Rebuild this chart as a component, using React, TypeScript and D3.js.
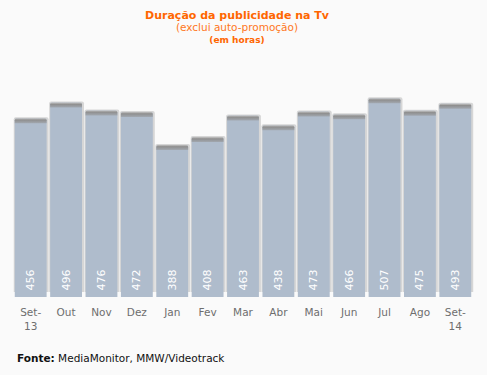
import React from 'react';
import * as d3 from 'd3';

const categories = ['Set-13', 'Out', 'Nov', 'Dez', 'Jan', 'Fev', 'Mar', 'Abr', 'Mai', 'Jun', 'Jul', 'Ago', 'Set-14'];
const tickLabels = [['Set-', '13'], ['Out'], ['Nov'], ['Dez'], ['Jan'], ['Fev'], ['Mar'], ['Abr'], ['Mai'], ['Jun'], ['Jul'], ['Ago'], ['Set-', '14']];
const hours = [456, 496, 476, 472, 388, 408, 463, 438, 473, 466, 507, 475, 493];

const W = 487;
const H = 375;
const base = 297;

// bar with rounded top corners, square bottom
function barPath(x0: number, y0: number, w: number, h: number, r: number) {
  const p = d3.path();
  p.moveTo(x0, y0 + h);
  p.lineTo(x0, y0 + r);
  p.quadraticCurveTo(x0, y0, x0 + r, y0);
  p.lineTo(x0 + w - r, y0);
  p.quadraticCurveTo(x0 + w, y0, x0 + w, y0 + r);
  p.lineTo(x0 + w, y0 + h);
  p.closePath();
  return p.toString();
}

export default function App() {
  const x = d3.scaleBand<string>()
    .domain(categories)
    .range([13, 473])
    .paddingInner(0.1)
    .paddingOuter(0.05);

  const y = d3.scaleLinear()
    .domain([0, 500])
    .range([base, 101]);

  const bw = x.bandwidth();
  const font = '"DejaVu Sans", Verdana, sans-serif';

  return (
    <svg width={W} height={H} style={{ position: 'absolute', left: 0, top: 0 }}>
      <defs>
        <linearGradient id="cap" x1="0" y1="0" x2="0" y2="1">
          <stop offset="0" stopColor="#c4c4c4" />
          <stop offset="0.35" stopColor="#8f8f8f" />
          <stop offset="1" stopColor="#a2a8b0" />
        </linearGradient>
      </defs>
      <rect width={W} height={H} fill="#fafafa" />

      <text x={237} y={19} textAnchor="middle" fontFamily={font} fontSize={11} fontWeight="bold" fill="#ff6600">
        Duração da publicidade na Tv
      </text>
      <text x={237} y={31} textAnchor="middle" fontFamily={font} fontSize={10.5} fill="#ff7722">
        (exclui auto-promoção)
      </text>
      <text x={237} y={43} textAnchor="middle" fontFamily={font} fontSize={9} fontWeight="bold" fill="#ff6600">
        (em horas)
      </text>

      {categories.map((c, i) => {
        const bx = x(c) as number;
        const top = y(hours[i]);
        const cx = bx + bw / 2;
        return (
          <g key={c}>
            <path d={barPath(bx - 1, top - 1, bw + 3, base - top - 4, 2)} fill="#d6d6d6" />
            <path d={barPath(bx, top, bw, base - top, 2)} fill="#afbccc" />
            <path d={barPath(bx, top, bw, 5, 2)} fill="url(#cap)" />
            <text
              transform={`translate(${cx},${280}) rotate(-90)`}
              textAnchor="middle"
              dominantBaseline="central"
              fontFamily={font}
              fontSize={11}
              fill="#ffffff"
            >
              {hours[i]}
            </text>
            {tickLabels[i].map((t, j) => (
              <text
                key={j}
                x={cx}
                y={316 + j * 14}
                textAnchor="middle"
                fontFamily={font}
                fontSize={10.5}
                fill="#6e6e6e"
              >
                {t}
              </text>
            ))}
          </g>
        );
      })}

      <text x={17} y={362} fontFamily={font} fontSize={10.5} fill="#111">
        <tspan fontWeight="bold">Fonte:</tspan> MediaMonitor, MMW/Videotrack
      </text>
    </svg>
  );
}
